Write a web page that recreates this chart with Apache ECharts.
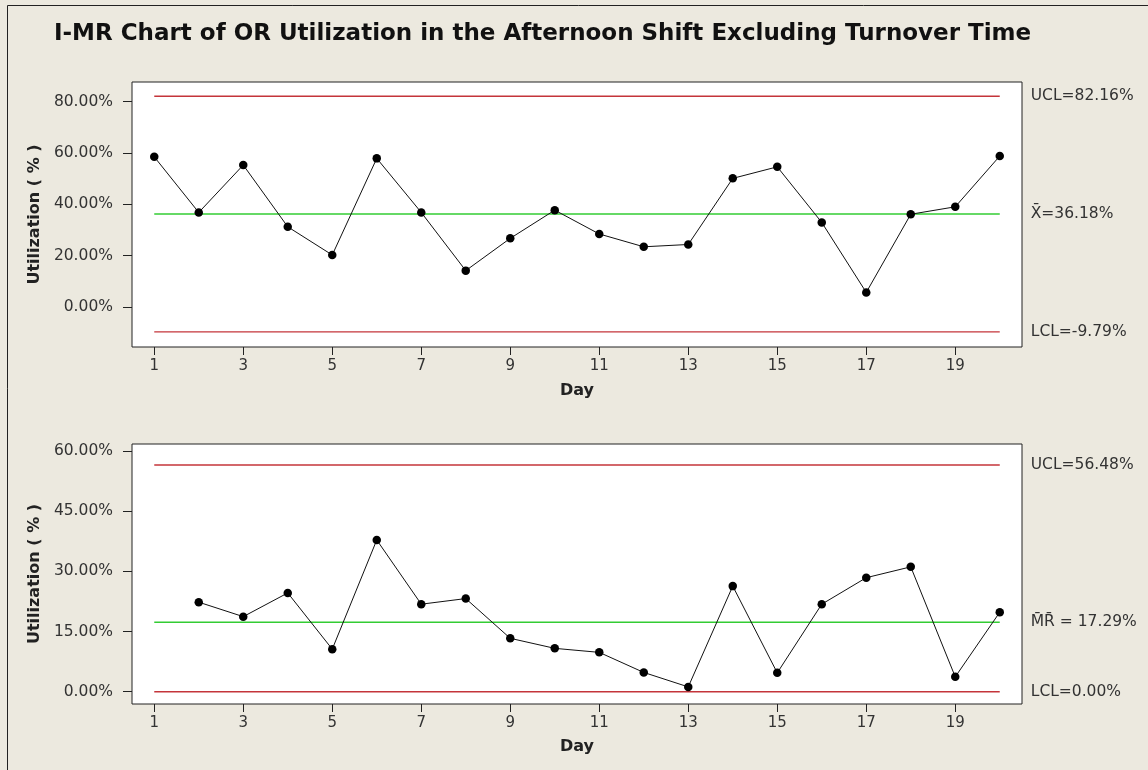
<!DOCTYPE html>
<html>
<head>
<meta charset="utf-8">
<script src="https://cdn.jsdelivr.net/npm/echarts@6/dist/echarts.min.js"></script>
<style>
html,body{margin:0;padding:0;background:#ECE9DF;}
#chart{width:1148px;height:770px;}
</style>
</head>
<body>
<div id="chart"></div>
<script>
// ---- data ----
const chartTitle = 'I-MR Chart of OR Utilization in the Afternoon Shift Excluding Turnover Time';
const days = ['1','2','3','4','5','6','7','8','9','10','11','12','13','14','15','16','17','18','19','20'];
const individuals = [58.5, 36.8, 55.3, 31.2, 20.2, 57.9, 36.8, 14.1, 26.7, 37.7, 28.4, 23.4, 24.3, 50.1, 54.6, 32.9, 5.6, 36.1, 39.0, 58.8];
const movingRanges = [null, 22.3, 18.7, 24.6, 10.6, 37.8, 21.8, 23.2, 13.3, 10.8, 9.8, 4.8, 1.2, 26.3, 4.7, 21.8, 28.4, 31.1, 3.7, 19.8];
const iLimits = [82.16, 36.18, -9.79];          // UCL, center, LCL
const iLimitLabels = ['UCL=82.16%', 'X\u0304=36.18%', 'LCL=-9.79%'];
const mrLimits = [56.48, 17.29, 0.00];
const mrLimitLabels = ['UCL=56.48%', 'M\u0304R\u0304 = 17.29%', 'LCL=0.00%'];
const iTicks = [0, 20, 40, 60, 80];
const mrTicks = [0, 15, 30, 45, 60];
const xAxisTitle = 'Day';
const yAxisTitle = 'Utilization ( % )';

// ---- styles ----
const FONT = 'DejaVu Sans';
const TXT = '#333333';
const RED = '#C4343A';
const GREEN = '#33CC33';
const limitColors = [RED, GREEN, RED];

function xAxisCfg(gridIndex, gap) {
  return {
    type: 'category', gridIndex, data: days, boundaryGap: true,
    name: xAxisTitle, nameLocation: 'middle', nameGap: gap,
    nameTextStyle: { fontFamily: FONT, fontWeight: 'bold', fontSize: 16, color: '#222' },
    axisLine: { show: false, onZero: false },
    axisTick: { show: true, length: 8, alignWithLabel: true, interval: 1, lineStyle: { color: '#222' } },
    axisLabel: { interval: 1, margin: 12, fontFamily: FONT, fontSize: 15, color: TXT },
    splitLine: { show: false }
  };
}
function yAxisCfg(gridIndex, min, max, ticks) {
  return {
    type: 'value', gridIndex, min, max,
    name: yAxisTitle, nameLocation: 'middle', nameGap: 88,
    nameTextStyle: { fontFamily: FONT, fontWeight: 'bold', fontSize: 16, color: '#222' },
    axisLine: { show: false, onZero: false },
    axisTick: { show: true, length: 9, customValues: ticks, lineStyle: { color: '#222' } },
    axisLabel: { customValues: ticks, margin: 19, fontFamily: FONT, fontSize: 15.5, color: TXT,
      formatter: v => v.toFixed(2) + '%' },
    splitLine: { show: false }
  };
}
function mainSeries(idx, data) {
  return {
    type: 'line', xAxisIndex: idx, yAxisIndex: idx, data,
    symbol: 'circle', symbolSize: 8.5, connectNulls: false,
    lineStyle: { color: '#111', width: 1 },
    itemStyle: { color: '#000' },
    z: 5
  };
}
function limitSeries(idx, limits, labels) {
  return limits.map((v, i) => ({
    type: 'line', xAxisIndex: idx, yAxisIndex: idx,
    data: [[days[0], v], [days[days.length - 1], v]],
    symbol: 'none', silent: true, z: 3,
    lineStyle: { color: limitColors[i], width: 1.4 },
    endLabel: { show: true, distance: 31, formatter: labels[i],
      fontFamily: FONT, fontSize: 15.5, color: TXT }
  }));
}

const chart = echarts.init(document.getElementById('chart'));
chart.setOption({
  backgroundColor: '#ECE9DF',
  animation: false,
  title: {
    text: chartTitle, left: 49, top: 18,
    textStyle: { fontFamily: FONT, fontWeight: 'bold', fontSize: 23, color: '#111' }
  },
  graphic: [{
    type: 'rect', shape: { x: 7.5, y: 5.5, width: 1200, height: 900 },
    style: { fill: 'none', stroke: '#222', lineWidth: 1 }, silent: true
  }],
  grid: [
    { left: 132, right: 126, top: 82, height: 265, show: true, backgroundColor: '#fff', borderColor: '#222', borderWidth: 1 },
    { left: 132, right: 126, top: 444, height: 260, show: true, backgroundColor: '#fff', borderColor: '#222', borderWidth: 1 }
  ],
  xAxis: [xAxisCfg(0, 36), xAxisCfg(1, 35)],
  yAxis: [yAxisCfg(0, -15.7, 87.7, iTicks), yAxisCfg(1, -3.06, 61.7, mrTicks)],
  series: [
    ...limitSeries(0, iLimits, iLimitLabels),
    ...limitSeries(1, mrLimits, mrLimitLabels),
    mainSeries(0, individuals),
    mainSeries(1, movingRanges)
  ]
});
</script>
</body>
</html>
